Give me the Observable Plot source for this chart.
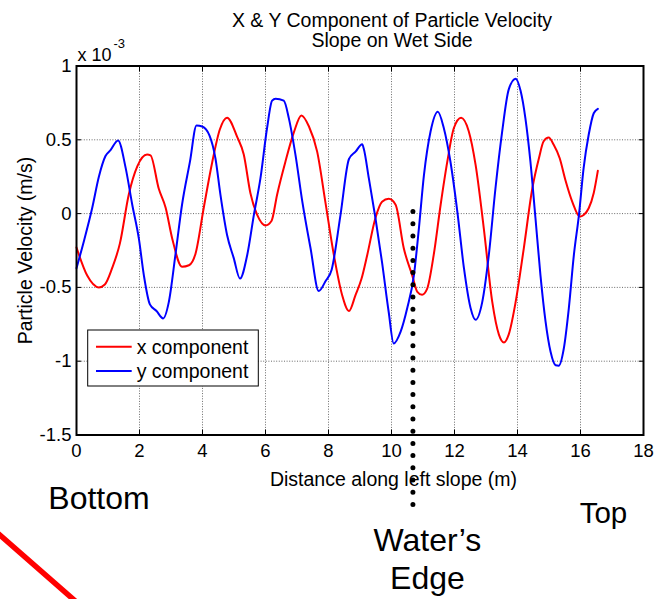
<!DOCTYPE html>
<html><head><meta charset="utf-8">
<script src="https://cdn.jsdelivr.net/npm/d3@7"></script>
<script src="https://cdn.jsdelivr.net/npm/@observablehq/plot@0.6"></script>
<style>body{margin:0;background:#fff}</style>
</head><body><div id="chart"></div>
<script>
// ---- data (velocity in units of 1e-3 m/s) ----
const xCompDist = [0,0.34,0.71,0.9,1.13,1.38,1.66,1.93,2.24,2.35,2.61,2.83,3.04,3.35,3.57,3.78,4.04,4.31,4.55,4.78,5.10,5.31,5.52,5.74,6.00,6.19,6.37,6.63,6.90,7.14,7.38,7.64,7.90,8.17,8.43,8.65,8.86,9.05,9.23,9.49,9.70,9.91,10.13,10.39,10.66,10.82,10.97,11.13,11.34,11.56,11.77,11.98,12.21,12.45,12.67,12.93,13.2,13.41,13.57,13.72,13.94,14.2,14.47,14.68,14.83,14.99,15.15,15.34,15.52,15.74,15.98,16.10,16.26,16.42,16.55];
const xCompVel  = [-0.23,-0.42,-0.50,-0.48,-0.37,-0.20,0.13,0.32,0.40,0.395,0.17,0.04,-0.17,-0.36,-0.35,-0.27,0.04,0.35,0.57,0.65,0.52,0.40,0.14,-0.01,-0.08,-0.05,0.13,0.35,0.55,0.665,0.59,0.42,0.08,-0.28,-0.55,-0.66,-0.55,-0.44,-0.28,-0.03,0.08,0.10,0.06,-0.235,-0.42,-0.53,-0.55,-0.51,-0.28,0.06,0.35,0.58,0.65,0.56,0.33,-0.10,-0.60,-0.82,-0.873,-0.82,-0.60,-0.235,0.17,0.375,0.49,0.515,0.466,0.375,0.228,0.08,-0.02,-0.01,0.036,0.14,0.29];
const yCompDist = [0,0.23,0.50,0.71,0.92,1.08,1.32,1.56,1.77,1.98,2.14,2.33,2.54,2.75,2.93,3.14,3.35,3.60,3.81,3.99,4.22,4.41,4.57,4.78,4.99,5.19,5.42,5.63,5.84,6.05,6.21,6.32,6.58,6.74,6.95,7.17,7.43,7.69,7.90,8.10,8.38,8.65,8.86,9.07,9.12,9.28,9.49,9.70,9.91,10.07,10.29,10.50,10.71,10.87,11.03,11.24,11.47,11.66,11.87,12.09,12.30,12.51,12.67,12.88,13.09,13.30,13.51,13.72,13.94,14.10,14.25,14.41,14.57,14.73,14.89,15.05,15.21,15.31,15.47,15.63,15.79,15.95,16.10,16.26,16.42,16.55];
const yCompVel  = [-0.37,-0.19,0.04,0.25,0.39,0.43,0.495,0.31,0.06,-0.17,-0.42,-0.615,-0.66,-0.71,-0.60,-0.28,0.06,0.35,0.597,0.59,0.53,0.375,0.127,-0.145,-0.30,-0.44,-0.28,-0.01,0.24,0.58,0.765,0.778,0.765,0.647,0.40,0.08,-0.235,-0.525,-0.46,-0.38,-0.01,0.37,0.42,0.47,0.44,0.24,-0.03,-0.33,-0.665,-0.88,-0.80,-0.64,-0.42,-0.10,0.26,0.556,0.69,0.58,0.353,0.014,-0.37,-0.64,-0.72,-0.60,-0.28,0.17,0.55,0.84,0.914,0.83,0.647,0.353,-0.03,-0.42,-0.73,-0.936,-1.027,-1.03,-0.914,-0.64,-0.28,-0.01,0.31,0.534,0.68,0.71];

const seriesNames  = ["x component", "y component"];
const seriesColors = ["#ff0000", "#0000ff"];

const xTicks = [0,2,4,6,8,10,12,14,16,18];
const yTicks = [1,0.5,0,-0.5,-1,-1.5];
const yTickLabels = ["1","0.5","0","-0.5","-1","-1.5"];

const titleText = "X & Y Component of Particle Velocity\nSlope on Wet Side";
const xLabel = "Distance along left slope (m)";
const yLabel = "Particle Velocity (m/s)";
const expBase = "x 10";
const expPower = "-3";

// annotations (data units)
const waterEdgeX = [10.68];
const waterEdgeY = [0.01, -1.978];
const annoText = ["Bottom", "Top", "Water\u2019s\nEdge"];
const annoX    = [0.714, 16.73, 11.14];
const annoY    = [-2.0, -2.093, -2.54];
const annoSize = [32, 29.5, 32];
const arrowX = [-2.54, 0.063];
const arrowY = [-2.157, -2.644];

// ---- build tables ----
const rows = [
  ...xCompDist.map((d, i) => ({d, v: xCompVel[i], s: seriesNames[0]})),
  ...yCompDist.map((d, i) => ({d, v: yCompVel[i], s: seriesNames[1]}))
];
const annos = annoText.map((t, i) => ({t, x: annoX[i], y: annoY[i], size: annoSize[i]}));
const arrow = arrowX.map((x, i) => ({x, y: arrowY[i]}));

const FONT = "'Liberation Sans', Arial, Helvetica, sans-serif";

function legendMark(index, scales, values, dims) {
  const g = d3.create("svg:g");
  const x0 = dims.marginLeft + 11.7, y0 = dims.marginTop + 264.5;
  g.append("rect").attr("x", x0).attr("y", y0).attr("width", 170.6).attr("height", 56)
    .attr("fill", "white").attr("stroke", "black").attr("stroke-width", 1);
  seriesNames.forEach((name, i) => {
    const cy = y0 + 16.7 + i * 24.3;
    g.append("line").attr("x1", x0 + 8.3).attr("x2", x0 + 44).attr("y1", cy).attr("y2", cy)
      .attr("stroke", seriesColors[i]).attr("stroke-width", 2);
    g.append("text").attr("x", x0 + 49).attr("y", cy).attr("dy", "0.35em")
      .attr("text-anchor", "start")
      .attr("font-size", 19.5).attr("font-family", FONT).attr("fill", "black").text(name);
  });
  return g.node();
}

const chart = Plot.plot({
  width: 654,
  height: 599,
  marginLeft: 76,
  marginRight: 11,
  marginTop: 65.5,
  marginBottom: 164.5,
  style: {fontFamily: FONT, fontSize: "18.5px", background: "white", color: "black", overflow: "hidden"},
  x: {domain: [0, 18]},
  y: {domain: [-1.5, 1]},
  color: {domain: seriesNames, range: seriesColors},
  marks: [
    Plot.gridX(xTicks.slice(1, -1), {stroke: "#444", strokeOpacity: 1, strokeWidth: 0.8, strokeDasharray: "1,1.6"}),
    Plot.gridY(yTicks.slice(1, -1), {stroke: "#444", strokeOpacity: 1, strokeWidth: 0.8, strokeDasharray: "1,1.6"}),
    Plot.line(rows, {x: "d", y: "v", z: "s", stroke: "s", strokeWidth: 2, curve: "monotone-x"}),
    Plot.frame({stroke: "black", strokeWidth: 2}),
    Plot.axisX(xTicks, {anchor: "bottom", tickSize: -5, text: null}),
    Plot.axisX(xTicks, {anchor: "top", tickSize: -5, text: null}),
    Plot.axisY(yTicks, {anchor: "left", tickSize: -5, text: null}),
    Plot.axisY(yTicks, {anchor: "right", tickSize: -5, text: null}),
    Plot.axisX(xTicks, {anchor: "bottom", tickSize: 0, tickPadding: 9, label: null, fontSize: 18.5, tickFormat: d => String(d)}),
    Plot.axisY(yTicks, {anchor: "left", tickSize: 0, tickPadding: 5, label: null, fontSize: 18.5,
      tickFormat: d => yTickLabels[yTicks.indexOf(d)]}),
    Plot.text([titleText], {frameAnchor: "top", text: d => d, textAnchor: "middle", dx: 32, dy: -18.8, lineAnchor: "bottom", lineHeight: 1.03, fontSize: 19.5}),
    Plot.text([xLabel], {frameAnchor: "bottom", text: d => d, textAnchor: "middle", dx: 33.5, dy: 50.5, lineAnchor: "bottom", fontSize: 19.5}),
    Plot.text([yLabel], {frameAnchor: "left", text: d => d, textAnchor: "middle", rotate: -90, dx: -45, lineAnchor: "bottom", fontSize: 19.5}),
    Plot.text([expBase], {frameAnchor: "top-left", text: d => d, textAnchor: "start", lineAnchor: "bottom", dx: 1, dy: -5.5, fontSize: 18}),
    Plot.text([expPower], {frameAnchor: "top-left", text: d => d, textAnchor: "start", lineAnchor: "bottom", dx: 37, dy: -18, fontSize: 13}),
    legendMark,
    Plot.text(annos, {x: "x", y: "y", text: "t", fontSize: d => d.size, lineAnchor: "bottom", lineHeight: 1.18, textAnchor: "middle", fill: "black"}),
    Plot.ruleX(waterEdgeX, {x: d => d, y1: waterEdgeY[0], y2: waterEdgeY[1], stroke: "black", strokeWidth: 5, strokeLinecap: "round", strokeDasharray: "0,12.2"}),
    Plot.line(arrow, {x: "x", y: "y", stroke: "#ff0000", strokeWidth: 5.5})
  ]
});
document.getElementById("chart").appendChild(chart);
</script>
</body></html>
